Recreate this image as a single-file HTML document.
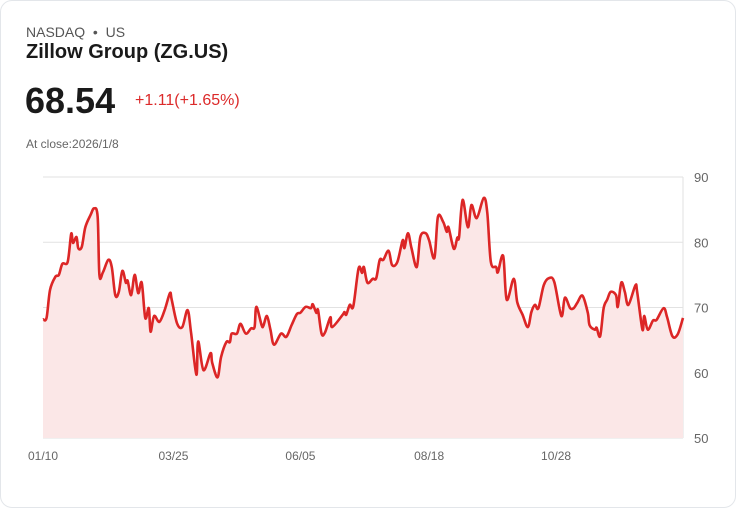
<!DOCTYPE html>
<html><head><meta charset="utf-8"><style>
body{margin:0;background:#fff;font-family:"Liberation Sans",sans-serif;}
.card{position:absolute;left:0;top:0;width:734px;height:506px;border:1px solid #e3e6ea;border-radius:12px;background:#fff;}
.t{position:absolute;white-space:nowrap;}
</style></head><body>
<div class="card">
<div class="t" style="left:25px;top:23px;font-size:14px;color:#555">NASDAQ &nbsp;•&nbsp; US</div>
<div class="t" style="left:25px;top:40px;font-size:20px;font-weight:bold;color:#1a1a1a">Zillow Group (ZG.US)</div>
<div class="t" style="left:24px;top:79px;font-size:36px;font-weight:bold;color:#1a1a1a">68.54</div>
<div class="t" style="left:134px;top:91px;font-size:16px;color:#dc2a2a">+1.11(+1.65%)</div>
<div class="t" style="left:25px;top:136px;font-size:12px;color:#666">At close:2026/1/8</div>
<svg id="chart" width="736" height="508" style="position:absolute;left:-1px;top:-1px"></svg>
</div>
<script>
const days=[0,2,4,7,9,11,14,16,17,19,20,22,24,27,29,31,32,34,37,39,41,43,45,47,48,50,52,54,56,58,60,61,63,66,69,72,73,76,79,82,84,87,88,91,95,96,99,101,104,106,107,110,112,115,118,120,121,124,125,127,129,131,135,138,141,144,146,149,152,153,155,156,158,160,163,164,170,171,172,174,176,179,181,182,184,187,189,191,193,196,198,201,204,205,207,209,212,214,217,219,222,224,227,229,230,233,235,236,238,241,243,246,250,252,254,257,258,261,263,267,269,272,275,277,279,281,284,287,290,294,296,299,301,303,306,309,310,313,314,316,318,320,322,325,326,328,330,332,336,337,340,341,343,346,348,352,354,357,360,363];
const prices=[68.2,68.4,72.7,74.7,75,76.7,77,81.3,79.9,80.8,79.1,79.3,82.3,84.2,85.2,83.9,75,75.4,77.3,76.2,71.9,72.4,75.6,73.8,74.1,71.9,75,72.2,73.8,68.4,69.9,66.3,68.7,67.8,69.6,72.2,71.2,67.6,67,69.6,66.1,59.7,64.8,60.4,63,61.5,59.3,62.4,64.7,64.7,66,66,67.5,66,66.8,67,70.1,67.3,67.2,68.7,66.6,64.3,66,65.5,67.3,69,69.2,70.1,69.9,70.5,69.2,69.6,66,66.2,68.5,67,68.9,69.3,68.9,70.4,70.2,76,75.3,76.2,73.8,74.4,74.5,77.3,77.3,78.7,76.5,77,80.3,79.1,81.4,79.1,76.2,80.8,81.4,80.3,77.6,83.9,83.1,81.6,82.3,79,80.7,80.8,86.5,82.3,85.7,83.7,86.8,84.5,77,76.2,75.4,77.9,71.2,74.4,70.8,68.9,67,69.3,70.4,69.9,73.4,74.5,73.9,68.7,71.5,69.9,69.9,70.7,71.8,69.2,67.3,66.6,66.9,65.6,69.9,71.2,72.4,71.9,70.1,73.8,72.4,70.4,73.4,72.4,66.6,68.7,66.6,68,68.1,69.9,68.5,65.6,65.9,68.4];
const yTicks=[50,60,70,80,90];
const xTickLabels=["01/10","03/25","06/05","08/18","10/28"];
const xTickDays=[0,74,146,219,291];
const X0=43,X1=683,Y0=438,Y1=177,DMAX=363,VMIN=50,VMAX=90;
const sx=d=>X0+(d/DMAX)*(X1-X0);
const sy=v=>Y0-(v-VMIN)/(VMAX-VMIN)*(Y0-Y1);
const svg=document.getElementById('chart');
const NS='http://www.w3.org/2000/svg';
function mk(tag,attrs){const e=document.createElementNS(NS,tag);for(const k in attrs)e.setAttribute(k,attrs[k]);svg.appendChild(e);return e;}
yTicks.forEach(v=>{
 const g=mk('line',{x1:X0,x2:X1,y1:sy(v),y2:sy(v),stroke:'#e2e2e2','stroke-width':1});
 
 
 const t=mk('text',{x:694,y:sy(v)+5,'font-size':13,fill:'#666','font-family':'Liberation Sans, sans-serif'});
 t.textContent=v;
 
 
});
const ax=mk('line',{x1:X1,x2:X1,y1:Y1,y2:Y0,stroke:'#e2e2e2','stroke-width':1});


xTickLabels.forEach((l,i)=>{
 const t=mk('text',{x:sx(xTickDays[i]),y:460,'font-size':12,fill:'#666','text-anchor':'middle','font-family':'Liberation Sans, sans-serif'});
 t.textContent=l;
 
 
});
const pts=days.map((d,i)=>[sx(d),sy(prices[i])]);
let p='M'+pts[0][0]+','+pts[0][1];
for(let i=0;i<pts.length-1;i++){
 const a=pts[Math.max(0,i-1)],b=pts[i],c=pts[i+1],d=pts[Math.min(pts.length-1,i+2)];
 const c1=[b[0]+(c[0]-a[0])/6,b[1]+(c[1]-a[1])/6],c2=[c[0]-(d[0]-b[0])/6,c[1]-(d[1]-b[1])/6];
 p+=' C'+c1[0]+','+c1[1]+' '+c2[0]+','+c2[1]+' '+c[0]+','+c[1];
}
const area=mk('path',{d:p+' L'+pts[pts.length-1][0]+','+Y0+' L'+pts[0][0]+','+Y0+' Z',fill:'#fbe7e7'});


const line=mk('path',{d:p,fill:'none',stroke:'#dc2626','stroke-width':2.6,'stroke-linejoin':'round'});


</script>
</body></html>
